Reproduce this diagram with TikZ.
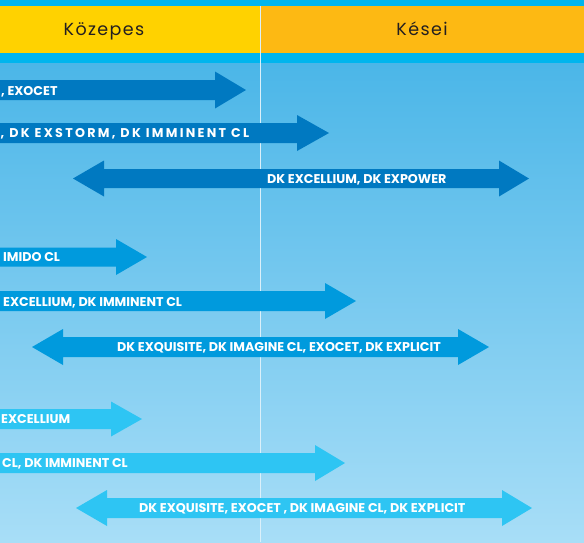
\documentclass[tikz,border=0pt]{standalone}
\usepackage{fontspec}
\setmainfont{Poppins}
\definecolor{hdrY}{HTML}{FFD200}
\definecolor{hdrO}{HTML}{FDB913}
\definecolor{stripC}{HTML}{00B5EE}
\definecolor{bgTop}{HTML}{4BB6E8}
\definecolor{bgBot}{HTML}{A8DEF7}
\definecolor{arrA}{HTML}{0079C1}
\definecolor{arrB}{HTML}{009ADD}
\definecolor{arrC}{HTML}{2EC5F3}
\definecolor{hdrText}{HTML}{231F20}
\newcommand\rarr[7]{\fill[#1] (#2,#5-#6) -- (#3,#5-#6) -- (#3,#5-#7) -- (#4,#5) -- (#3,#5+#7) -- (#3,#5+#6) -- (#2,#5+#6) -- cycle;}
\newcommand\darr[8]{\fill[#1] (#2,#6) -- (#3,#6-#8) -- (#3,#6-#7) -- (#4,#6-#7) -- (#4,#6-#8) -- (#5,#6) -- (#4,#6+#8) -- (#4,#6+#7) -- (#3,#6+#7) -- (#3,#6+#8) -- cycle;}
\tikzset{
  lbl/.style={anchor=base west, inner sep=0pt, text=white, font=\bfseries\fontsize{12.7}{12.7}\selectfont},
  hdr/.style={anchor=base, inner sep=0pt, text=hdrText, font=\fontsize{17.5}{17.5}\selectfont\addfontfeature{LetterSpace=8}}
}
\begin{document}
\begin{tikzpicture}[x=1pt,y=-1pt]
\useasboundingbox (0,0) rectangle (584,542);
\clip (0,0) rectangle (584,542);
% background
\shade[top color=bgTop, bottom color=bgBot] (0,63) rectangle (584,542);
\fill[stripC] (0,0) rectangle (584,6);
\fill[stripC] (0,53) rectangle (584,63);
\fill[hdrY] (0,6) rectangle (260,53);
\fill[hdrO] (260,6) rectangle (584,53);
\node[hdr] (kozepes) at (104,35) {Közepes};
\node[hdr] (kesei) at (422,35) {Kései};
% divider
\draw[white!80!bgTop, line width=1pt] (260,6) -- (260,542);
% row group A
\rarr{arrA}{-5}{215}{246}{90}{10}{18.5}
\rarr{arrA}{-5}{297}{329}{133}{10}{18}
\darr{arrA}{73}{104}{499}{529}{178.5}{9.5}{18}
% row group B
\rarr{arrB}{-5}{116}{147}{257}{9.5}{18}
\rarr{arrB}{-5}{325}{356}{301}{10}{18}
\darr{arrB}{32}{63}{458}{489}{347}{10}{18}
% row group C
\rarr{arrC}{-5}{111}{142}{419}{10}{17.5}
\rarr{arrC}{-5}{315}{345}{463}{10}{18}
\darr{arrC}{76}{107}{502}{532}{508}{10}{18}
% labels
\node[lbl] (l1) at (1,95.5) {, EXOCET};
\node[lbl, font=\bfseries\fontsize{12.7}{12.7}\selectfont\addfontfeature{LetterSpace=18}] (l2) at (0.5,137.5) {, DK EXSTORM, DK IMMINENT CL};
\node[lbl] (l3) at (267,183) {DK EXCELLIUM, DK EXPOWER};
\node[lbl] (l4) at (3,261.5) {IMIDO CL};
\node[lbl] (l5) at (3,306) {EXCELLIUM, DK IMMINENT CL};
\node[lbl] (l6) at (117,351.5) {DK EXQUISITE, DK IMAGINE CL, EXOCET, DK EXPLICIT};
\node[lbl] (l7) at (1,423.5) {EXCELLIUM};
\node[lbl] (l8) at (2,467.5) {CL, DK IMMINENT CL};
\node[lbl] (l9) at (139,512.5) {DK EXQUISITE, EXOCET , DK IMAGINE CL, DK EXPLICIT};
\end{tikzpicture}
\end{document}
